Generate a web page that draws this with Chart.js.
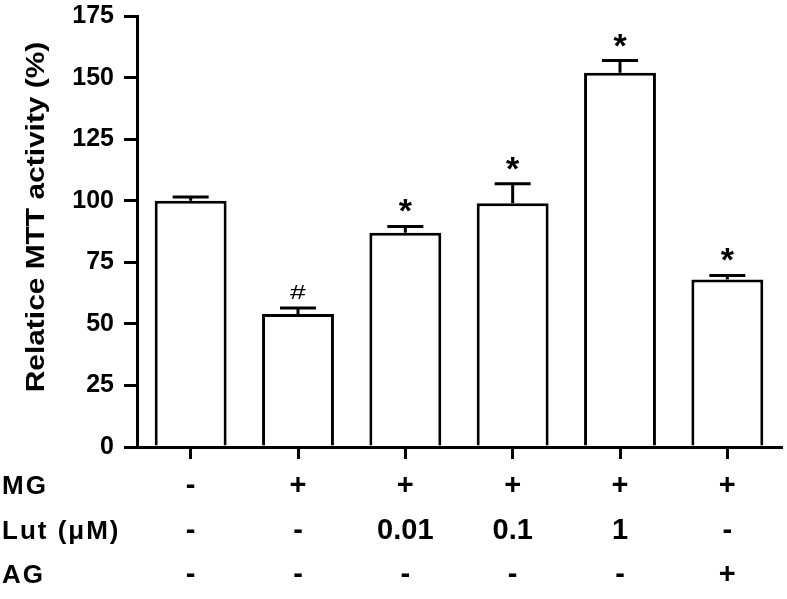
<!DOCTYPE html>
<html>
<head>
<meta charset="utf-8">
<script src="https://cdn.jsdelivr.net/npm/chart.js@4"></script>
<style>
  html, body { margin: 0; padding: 0; background: #fff; }
  #wrap { width: 787px; height: 599px; }
</style>
</head>
<body>
<div id="wrap"><canvas id="mtt"></canvas></div>
<script>
// values
const groups = ["1", "2", "3", "4", "5", "6"];
const mtt = [100, 54, 87, 99, 152, 68];
const sem = [1.6, 2.5, 2.6, 8, 5, 1.7];
const marks = ["", "#", "*", "*", "*", "*"];

// treatment table under the x axis
const rowNames = ["MG", "Lut (\u03bcM)", "AG"];
const rowMG = ["-", "+", "+", "+", "+", "+"];
const rowLut = ["-", "-", "0.01", "0.1", "1", "-"];
const rowAG = ["-", "-", "-", "-", "-", "+"];

const yTicks = [0, 25, 50, 75, 100, 125, 150, 175];

const tableLabels = groups.map((g, i) => [rowMG[i], rowLut[i], rowAG[i]]);

const FONT = "Arial, 'Liberation Sans', sans-serif";

// error bars (upper only), significance marks, row names, y title
const extras = {
  id: "extras",
  afterDatasetsDraw(chart) {
    const ctx = chart.ctx;
    const x = chart.scales.x;
    const y = chart.scales.y;
    ctx.save();
    ctx.strokeStyle = "#000";
    ctx.fillStyle = "#000";
    ctx.lineWidth = 3;
    mtt.forEach((v, i) => {
      const cx = x.getPixelForValue(i);
      const top = y.getPixelForValue(v);
      const cap = y.getPixelForValue(v + sem[i]);
      ctx.beginPath();
      ctx.moveTo(cx, top);
      ctx.lineTo(cx, cap);
      ctx.moveTo(cx - 18, cap);
      ctx.lineTo(cx + 18, cap);
      ctx.stroke();
      ctx.textAlign = "center";
      ctx.textBaseline = "alphabetic";
      if (marks[i] === "*") {
        ctx.font = "bold 34px " + FONT;
        ctx.fillText("*", cx, cap - 4);
      } else if (marks[i] === "#") {
        ctx.save();
        ctx.translate(cx, cap - 9);
        ctx.scale(1.35, 1);
        ctx.font = "21px " + FONT;
        ctx.fillText("#", 0, 0);
        ctx.restore();
      }
    });
    ctx.restore();
  },
  afterDraw(chart) {
    const ctx = chart.ctx;
    ctx.save();
    ctx.fillStyle = "#000";
    ctx.textAlign = "left";
    ctx.textBaseline = "middle";
    ctx.font = "bold 26px " + FONT;
    ctx.letterSpacing = "2px";
    const rowsY = [487, 532, 576];
    rowNames.forEach((n, i) => ctx.fillText(n, 2, rowsY[i]));
    ctx.letterSpacing = "0px";
    ctx.translate(37, 217);
    ctx.rotate(-Math.PI / 2);
    ctx.scale(1.15, 1);
    ctx.textAlign = "center";
    ctx.font = "bold 26px " + FONT;
    ctx.fillText("Relatice MTT activity (%)", 0, 0);
    ctx.restore();
  }
};

new Chart(document.getElementById("mtt"), {
  type: "bar",
  data: {
    labels: tableLabels,
    datasets: [{
      data: mtt,
      backgroundColor: "#fff",
      borderColor: "#000",
      borderWidth: 3,
      borderSkipped: "bottom",
      barPercentage: 0.67,
      categoryPercentage: 1
    }]
  },
  options: {
    responsive: true,
    maintainAspectRatio: false,
    animation: false,
    layout: { padding: { top: 15, right: 6, left: 0, bottom: 0 } },
    plugins: { legend: { display: false }, tooltip: { enabled: false } },
    scales: {
      x: {
        grid: { display: true, drawOnChartArea: false, offset: false, tickLength: 12, color: "#000", lineWidth: 3 },
        border: { color: "#000", width: 3 },
        ticks: {
          color: "#000",
          padding: 5,
          maxRotation: 0,
          autoSkip: false,
          font: { family: FONT, size: 29, weight: "bold", lineHeight: 1.53 }
        },
        afterFit(scale) { scale.height = 152; }
      },
      y: {
        min: 0,
        max: 175,
        afterBuildTicks(scale) { scale.ticks = yTicks.map(v => ({ value: v })); },
        grid: { display: true, drawOnChartArea: false, tickLength: 13, color: "#000", lineWidth: 3 },
        border: { color: "#000", width: 3 },
        ticks: {
          color: "#000",
          padding: 10,
          font: { family: FONT, size: 25, weight: "bold", lineHeight: 0.5 }
        },
        afterFit(scale) { scale.width = 137; }
      }
    }
  },
  plugins: [extras]
});
</script>
</body>
</html>
